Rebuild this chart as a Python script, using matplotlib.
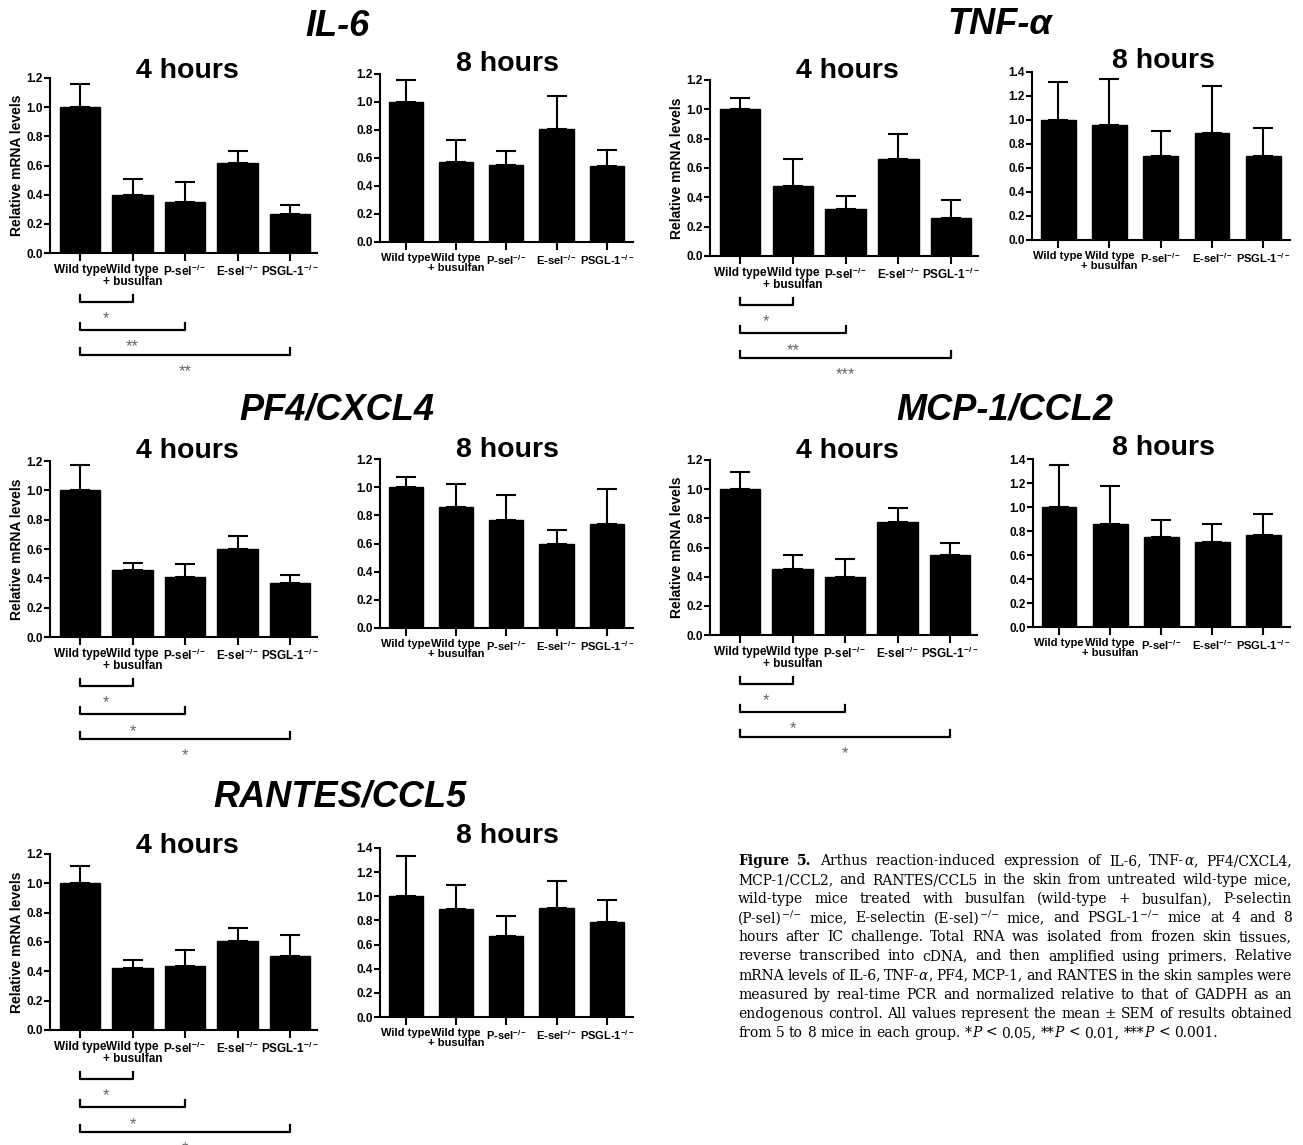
import numpy as np
import matplotlib
matplotlib.use("Agg")
import matplotlib.pyplot as plt
from matplotlib.transforms import blended_transform_factory

plt.rcParams['font.family'] = ['Liberation Sans', 'DejaVu Sans']
plt.rcParams['font.weight'] = 'bold'
plt.rcParams['mathtext.fontset'] = 'custom'
plt.rcParams['mathtext.rm'] = 'Liberation Sans:bold'
plt.rcParams['mathtext.bf'] = 'Liberation Sans:bold'
plt.rcParams['mathtext.it'] = 'Liberation Sans:bold:italic'
plt.rcParams['mathtext.default'] = 'regular'

# ---- data ----
groups = ["Wild type", "Wild type\n+ busulfan", r"P-sel$^{-/-}$",
          r"E-sel$^{-/-}$", r"PSGL-1$^{-/-}$"]

il6_4h = [1.00, 0.40, 0.35, 0.62, 0.27]
il6_4h_sem = [0.16, 0.11, 0.14, 0.08, 0.06]
il6_8h = [1.00, 0.57, 0.55, 0.81, 0.54]
il6_8h_sem = [0.16, 0.16, 0.10, 0.23, 0.12]

tnf_4h = [1.00, 0.48, 0.32, 0.66, 0.26]
tnf_4h_sem = [0.08, 0.18, 0.09, 0.17, 0.12]
tnf_8h = [1.00, 0.96, 0.70, 0.89, 0.70]
tnf_8h_sem = [0.32, 0.38, 0.21, 0.39, 0.23]

pf4_4h = [1.00, 0.455, 0.41, 0.60, 0.37]
pf4_4h_sem = [0.17, 0.05, 0.09, 0.09, 0.055]
pf4_8h = [1.00, 0.86, 0.77, 0.60, 0.74]
pf4_8h_sem = [0.07, 0.16, 0.175, 0.095, 0.25]

mcp_4h = [1.00, 0.45, 0.40, 0.775, 0.55]
mcp_4h_sem = [0.115, 0.10, 0.12, 0.095, 0.08]
mcp_8h = [1.00, 0.855, 0.75, 0.71, 0.77]
mcp_8h_sem = [0.35, 0.32, 0.145, 0.15, 0.175]

rantes_4h = [1.00, 0.425, 0.435, 0.61, 0.505]
rantes_4h_sem = [0.12, 0.05, 0.11, 0.085, 0.145]
rantes_8h = [1.00, 0.895, 0.675, 0.90, 0.79]
rantes_8h_sem = [0.33, 0.195, 0.165, 0.23, 0.18]

# comparisons of wild type vs group index
compare_with = [1, 2, 4]
il6_stars = ["*", "**", "**"]
tnf_stars = ["*", "**", "***"]
pf4_stars = ["*", "*", "*"]
mcp_stars = ["*", "*", "*"]
rantes_stars = ["*", "*", "*"]

section_titles = ["IL-6", "TNF-α", "PF4/CXCL4", "MCP-1/CCL2", "RANTES/CCL5"]

caption_lines = [
    "Figure 5. Arthus reaction-induced expression of IL-6, TNF-~α, PF4/CXCL4,",
    "MCP-1/CCL2, and RANTES/CCL5 in the skin from untreated wild-type mice,",
    "wild-type mice treated with busulfan (wild-type + busulfan), P-selectin",
    "(P-sel)^−/− mice, E-selectin (E-sel)^−/− mice, and PSGL-1^−/− mice at 4 and 8",
    "hours after IC challenge. Total RNA was isolated from frozen skin tissues,",
    "reverse transcribed into cDNA, and then amplified using primers. Relative",
    "mRNA levels of IL-6, TNF-~α, PF4, MCP-1, and RANTES in the skin samples were",
    "measured by real-time PCR and normalized relative to that of GADPH as an",
    "endogenous control. All values represent the mean ± SEM of results obtained",
    "from 5 to 8 mice in each group. *~P < 0.05, **~P < 0.01, ***~P < 0.001.",
]

# ---- figure ----
W, H = 1303, 1145
fig = plt.figure(figsize=(W / 100, H / 100), dpi=100)
fig.patch.set_facecolor('white')


def px_axes(x0, x1, ytop, ybot):
    return fig.add_axes([x0 / W, 1 - ybot / H, (x1 - x0) / W, (ybot - ytop) / H])


def draw_panel(box, title_xy, mean, sem, ymax, four_h, stars=None):
    ax = px_axes(*box)
    x = np.arange(len(groups))
    width = 0.77 if four_h else 0.68
    ax.bar(x, mean, width, color='black', edgecolor='black', zorder=2)
    ax.errorbar(x, mean, yerr=[np.zeros(len(sem)), sem], fmt='none',
                ecolor='black', elinewidth=1.5, capsize=7, capthick=1.5, zorder=1)
    ax.set_ylim(0, ymax)
    if four_h:
        ax.set_xlim(-0.57, 4.51)
    else:
        ax.set_xlim(-0.51, 4.52)
    yt = np.arange(0, ymax + 0.001, 0.2)
    ax.set_yticks(yt)
    ax.set_yticklabels(["%.1f" % v for v in yt], fontsize=8.5, fontweight='bold')
    ax.set_xticks(x)
    ax.set_xticklabels(groups, fontsize=8.5 if four_h else 8.0,
                       fontweight='bold', linespacing=1.0)
    for s in ['top', 'right']:
        ax.spines[s].set_visible(False)
    for s in ['left', 'bottom']:
        ax.spines[s].set_linewidth(1.5)
    ax.tick_params(axis='x', length=6, width=1.5, pad=2)
    ax.tick_params(axis='y', length=4, width=1.5, pad=1)

    # panel title, placed by its visual centre
    tfs = 20.5
    tx, ty = title_xy
    fig.text(tx / W, 1 - (ty + 0.36 * tfs * 100 / 72) / H,
             "4 hours" if four_h else "8 hours", ha='center', va='baseline',
             fontsize=tfs, fontweight='bold')

    if four_h:
        bb = ax.get_position()
        fig.text((box[0] - 33) / W, bb.y0 + bb.height / 2, "Relative mRNA levels",
                 rotation=90, ha='center', va='center', fontsize=10,
                 fontweight='bold')
    if stars:
        tr = blended_transform_factory(ax.transData, ax.transAxes)
        ys = [-0.28, -0.44, -0.58]
        for k, (j, s) in enumerate(zip(compare_with, stars)):
            y = ys[k]
            ax.plot([0, 0, j, j], [y + 0.04, y, y, y + 0.04], color='black',
                    lw=1.6, transform=tr, clip_on=False)
            ax.text(j / 2, y - 0.095, s, transform=tr, ha='center', va='center',
                    fontsize=12, fontweight='normal', color='#666666')
    return ax


# boxes in pixels: x0, x1, ytop, ybottom ; title centre in pixels
draw_panel((50, 317, 78, 253), (187, 68), il6_4h, il6_4h_sem, 1.2, True, il6_stars)
draw_panel((380, 633, 74, 242), (507, 61), il6_8h, il6_8h_sem, 1.2, False)
draw_panel((710, 978, 80, 256), (847, 68), tnf_4h, tnf_4h_sem, 1.2, True, tnf_stars)
draw_panel((1032, 1290, 72, 240), (1163, 58), tnf_8h, tnf_8h_sem, 1.4, False)
draw_panel((50, 317, 461, 637), (187, 448), pf4_4h, pf4_4h_sem, 1.2, True, pf4_stars)
draw_panel((380, 633, 459, 628), (507, 447), pf4_8h, pf4_8h_sem, 1.2, False)
draw_panel((710, 977, 460, 635), (847, 448), mcp_4h, mcp_4h_sem, 1.2, True, mcp_stars)
draw_panel((1033, 1290, 459, 627), (1163, 445), mcp_8h, mcp_8h_sem, 1.4, False)
draw_panel((50, 317, 854, 1030), (187, 843), rantes_4h, rantes_4h_sem, 1.2, True,
           rantes_stars)
draw_panel((380, 633, 848, 1017), (507, 833), rantes_8h, rantes_8h_sem, 1.4, False)

title_pos = [(337, 27), (1000, 25), (337, 410), (1005, 410), (340, 797)]
for t, (tx, ty) in zip(section_titles, title_pos):
    fig.text(tx / W, 1 - ty / H, t, ha='center', va='center', fontsize=26,
             fontweight='bold', fontstyle='italic')

# ---- caption (justified) ----
renderer = fig.canvas.get_renderer()
cap_font = 'DejaVu Serif'
cap_x0, cap_x1 = 738, 1292
base_y0, line_h = 865, 19.1


def parse_word(word, bold):
    pieces = []
    base, _, sup = word.partition('^')
    parts = base.split('~')
    if parts[0]:
        pieces.append((parts[0], 'normal', False))
    for p in parts[1:]:
        pieces.append((p[0], 'italic', False))
        if p[1:]:
            pieces.append((p[1:], 'normal', False))
    if sup:
        pieces.append((sup, 'normal', True))
    return [(s, st, sp, bold) for s, st, sp in pieces]


def piece_kw(fs, style, sup, bold):
    return dict(family=cap_font, fontsize=fs * (0.68 if sup else 1.0),
                fontstyle=style, fontweight='bold' if bold else 'normal')


def piece_width(fs, s, style, sup, bold):
    t = fig.text(0, 0, s, **piece_kw(fs, style, sup, bold))
    w = t.get_window_extent(renderer).width
    t.remove()
    return w


def line_layout(fs, line, i):
    words = line.split(' ')
    parsed = [parse_word(w, i == 0 and k < 2) for k, w in enumerate(words)]
    widths = [[piece_width(fs, *p) for p in pw] for pw in parsed]
    return parsed, widths


def space_width(fs):
    return (piece_width(fs, "a a", 'normal', False, False)
            - piece_width(fs, "aa", 'normal', False, False))


# largest size at which every line still fits
cap_fs = 12.5
while True:
    sw = space_width(cap_fs)
    widest = 0
    for i, line in enumerate(caption_lines):
        parsed, widths = line_layout(cap_fs, line, i)
        nat = sum(sum(ws) for ws in widths) + sw * 0.7 * (len(parsed) - 1)
        widest = max(widest, nat)
    if widest <= cap_x1 - cap_x0 or cap_fs < 8:
        break
    cap_fs -= 0.25

sw = space_width(cap_fs)
for i, line in enumerate(caption_lines):
    parsed, widths = line_layout(cap_fs, line, i)
    totals = [sum(ws) for ws in widths]
    if i < len(caption_lines) - 1:
        gap = (cap_x1 - cap_x0 - sum(totals)) / (len(parsed) - 1)
    else:
        gap = sw
    x = cap_x0
    yb = base_y0 + i * line_h
    for pw, ws in zip(parsed, widths):
        for (s, st, sp, b), w in zip(pw, ws):
            y = yb - (cap_fs * 0.42 * 100 / 72 if sp else 0)
            fig.text(x / W, 1 - y / H, s, ha='left', va='baseline',
                     **piece_kw(cap_fs, st, sp, b))
            x += w
        x += gap

fig.savefig("out.png", dpi=100, facecolor='white')
